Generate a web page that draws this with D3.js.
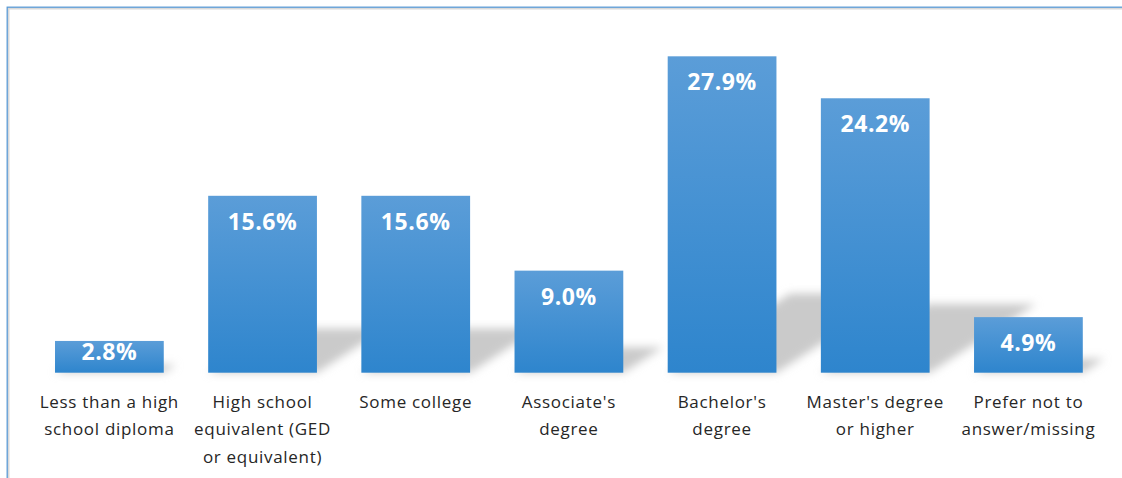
<!DOCTYPE html>
<html>
<head>
<meta charset="utf-8">
<script src="https://cdn.jsdelivr.net/npm/d3@7"></script>
<style>
  html, body { margin: 0; padding: 0; background: #fff; overflow: hidden; }
  svg { display: block; }
</style>
</head>
<body>
<svg id="chart" width="1122" height="478"></svg>
<script>
// Highest level of education completed (share of respondents, %)
const categories = [
  "Less than a high\nschool diploma",
  "High school\nequivalent (GED\nor equivalent)",
  "Some college",
  "Associate's\ndegree",
  "Bachelor's\ndegree",
  "Master's degree\nor higher",
  "Prefer not to\nanswer/missing"
];
const values = [2.8, 15.6, 15.6, 9.0, 27.9, 24.2, 4.9];
const valueLabels = ["2.8%", "15.6%", "15.6%", "9.0%", "27.9%", "24.2%", "4.9%"];

const W = 1122, H = 478;
const svg = d3.select("#chart");

// Chart frame: blue outline with a light grey inner edge
svg.append("rect")
  .attr("x", 8.5).attr("y", 8.5).attr("width", W + 20).attr("height", H + 20)
  .attr("fill", "none").attr("stroke", "#d9d9d9").attr("stroke-width", 2);
svg.append("rect")
  .attr("x", 7.2).attr("y", 7.2).attr("width", W + 20).attr("height", H + 20)
  .attr("fill", "none").attr("stroke", "#5b9bd5").attr("stroke-width", 1.3);

const x = d3.scaleBand()
  .domain(d3.range(categories.length))
  .range([32.8, 1105])
  .paddingInner(0.29)
  .paddingOuter(0.145);

const y = d3.scaleLinear().domain([0, 30]).range([372.7, 32.5]);
const base = y(0);

const defs = svg.append("defs");
const grad = defs.append("linearGradient")
  .attr("id", "barFill").attr("x1", 0).attr("y1", 0).attr("x2", 0).attr("y2", 1);
grad.append("stop").attr("offset", "0%").attr("stop-color", "#5b9dd8");
grad.append("stop").attr("offset", "100%").attr("stop-color", "#2e85cd");

const blur = defs.append("filter")
  .attr("id", "shadowBlur")
  .attr("filterUnits", "userSpaceOnUse")
  .attr("x", 0).attr("y", 0).attr("width", W).attr("height", H);
blur.append("feGaussianBlur").attr("stdDeviation", 4);

// Perspective shadows cast up and to the right of each bar
const shadowScale = 0.25, shadowSkew = 1.55;
const plot = svg.append("g");
plot.append("g").attr("filter", "url(#shadowBlur)")
  .selectAll("path")
  .data(values)
  .join("path")
  .attr("fill", "#cacaca")
  .attr("d", (v, i) => {
    const xl = x(i), xr = x(i) + x.bandwidth();
    const h = (base - y(v)) * shadowScale;
    const dx = h * shadowSkew;
    return `M${xl},${base}L${xr},${base}L${xr + dx},${base - h}L${xl + dx},${base - h}Z`;
  });

// Bars
plot.append("g")
  .selectAll("rect")
  .data(values)
  .join("rect")
  .attr("x", (v, i) => x(i))
  .attr("y", v => y(v))
  .attr("width", x.bandwidth())
  .attr("height", v => base - y(v))
  .attr("fill", "url(#barFill)");

// Value labels inside the top of each bar
plot.append("g")
  .selectAll("text")
  .data(values)
  .join("text")
  .attr("x", (v, i) => x(i) + x.bandwidth() / 2)
  .attr("y", v => Math.min(y(v) + 34, base - 13))
  .attr("text-anchor", "middle")
  .attr("font-family", "'Open Sans', sans-serif")
  .attr("font-weight", 700)
  .attr("font-size", 23)
  .attr("letter-spacing", 0.6)
  .attr("fill", "#ffffff")
  .text((v, i) => valueLabels[i]);

// Category labels below the baseline
const cat = plot.append("g")
  .selectAll("text")
  .data(categories)
  .join("text")
  .attr("x", (c, i) => x(i) + x.bandwidth() / 2)
  .attr("y", 407.5)
  .attr("text-anchor", "middle")
  .attr("font-family", "'Open Sans', sans-serif")
  .attr("font-size", 17)
  .attr("letter-spacing", 0.7)
  .attr("fill", "#262626");
cat.selectAll("tspan")
  .data(c => c.split("\n"))
  .join("tspan")
  .attr("x", function () { return this.parentNode.getAttribute("x"); })
  .attr("dy", (l, j) => j === 0 ? 0 : 27.5)
  .text(l => l);
</script>
</body>
</html>
